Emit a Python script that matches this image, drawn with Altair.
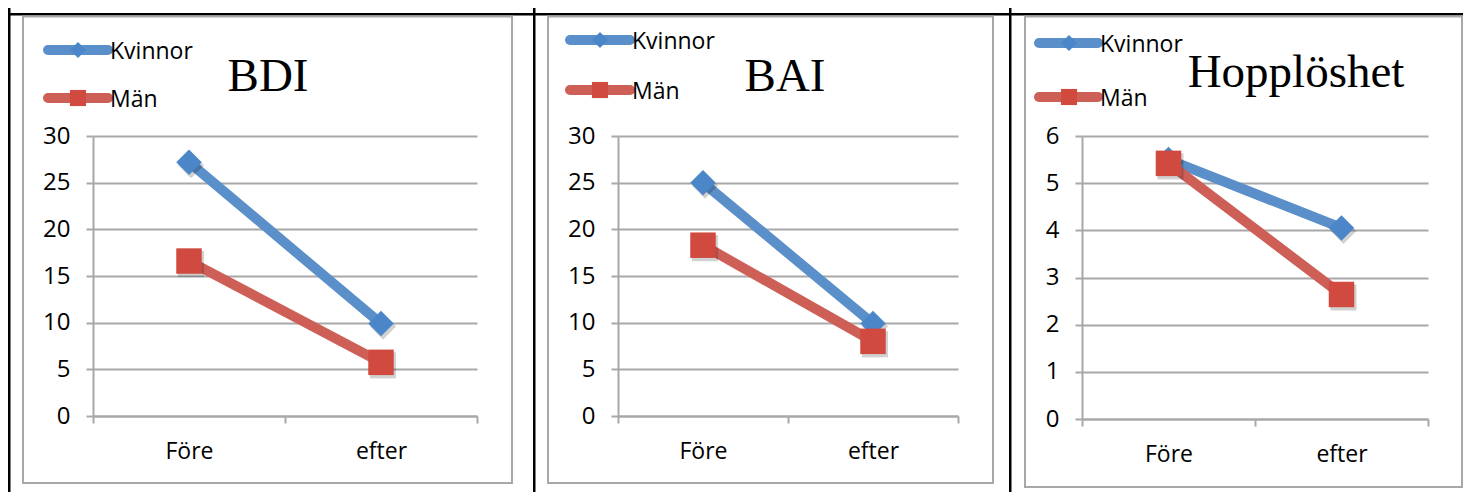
import altair as alt
import pandas as pd

# ---- data ----
time_labels = ["Före", "efter"]
series_names = ["Kvinnor", "Män"]
panel_titles = ["BDI", "BAI", "Hopplöshet"]

bdi_kvinnor = [27.2, 9.9]
bdi_man = [16.6, 5.75]
bai_kvinnor = [25.0, 9.9]
bai_man = [18.3, 8.0]
hopp_kvinnor = [5.5, 4.05]
hopp_man = [5.42, 2.64]

y_max = [30, 30, 6]
y_step = [5, 5, 1]

# ---- styles ----
line_colors = ["#5A8FC9", "#CD5F57"]
marker_fill = ["#4A86C8", "#D04A40"]
marker_shape = ["diamond", "square"]
GREY = "#A8A8A8"
FONT = "Open Sans"

# layout of each panel, in pixels relative to its plot area
plot_w = [384, 340, 346]
plot_h = [280, 280, 283]
cell = [(-85, 440), (-85, 391), (-73, 381)]          # table cell x-range
cell_bottom = 356
box = [(-70, 419, -119.5, 347), (-70, 375, -119.5, 347), (-57, 380, -119.5, 351)]
legend_line = [(-45, 15), (-48, 12), (-43, 16)]
legend_y = [(-86, -38), (-96, -46), (-93, -39)]
legend_marker_x = [-15, -18, -13]
legend_text_x = [17, 14, 18]
title_pos = [(175, -45), (167, -45), (214, -49)]

one = alt.Data(values=[{"k": 0}])


def panel(i, kv, man):
    w, h = plot_w[i], plot_h[i]
    x_enc = alt.X(
        "tid:N", sort=time_labels,
        scale=alt.Scale(type="band", paddingInner=0, paddingOuter=0),
        axis=alt.Axis(title=None, labelAngle=0, tickBand="extent", grid=False,
                      labelPadding=17, labelFontSize=23),
    )
    y_enc = alt.Y(
        "varde:Q",
        scale=alt.Scale(domain=[0, y_max[i]], nice=False, zero=True),
        axis=alt.Axis(title=None, values=list(range(0, y_max[i] + 1, y_step[i])),
                      grid=True, labelPadding=16, labelFontSize=24),
    )
    layers = []
    # table cell (invisible, defines the panel bounds)
    layers.append(alt.Chart(one).mark_rect(fill="white", fillOpacity=0, strokeWidth=0).encode(
        x=alt.value(cell[i][0]), x2=alt.value(cell[i][1]),
        y=alt.value(-128), y2=alt.value(cell_bottom)))
    # table borders (filled rects, so they stay inside the cell bounds)
    layers.append(alt.Chart(one).mark_rect(fill="black", strokeWidth=0).encode(
        x=alt.value(cell[i][0]), x2=alt.value(cell[i][0] + 2.5),
        y=alt.value(-128), y2=alt.value(cell_bottom)))
    layers.append(alt.Chart(one).mark_rect(fill="black", strokeWidth=0).encode(
        x=alt.value(cell[i][0]), x2=alt.value(cell[i][1]),
        y=alt.value(-123), y2=alt.value(-120.5)))
    # chart area border
    bx0, bx1, by0, by1 = box[i]
    layers.append(alt.Chart(one).mark_rect(fillOpacity=0, stroke=GREY, strokeWidth=2).encode(
        x=alt.value(bx0), x2=alt.value(bx1), y=alt.value(by0), y2=alt.value(by1)))

    values = [kv, man]
    for j in range(2):
        df = pd.DataFrame({"tid": time_labels, "serie": series_names[j], "varde": values[j]})
        base = alt.Chart(df).encode(x=x_enc, y=y_enc)
        layers.append(base.mark_line(color=line_colors[j], strokeWidth=10,
                                     strokeCap="round", strokeJoin="round"))
        layers.append(base.mark_point(shape=marker_shape[j], filled=True, color="black",
                                      opacity=0.18, size=680, xOffset=2, yOffset=3))
        layers.append(base.mark_point(shape=marker_shape[j], filled=True, fill=marker_fill[j],
                                      opacity=1, size=650, stroke=None))

    # legend
    for j in range(2):
        ly = legend_y[i][j]
        layers.append(alt.Chart(one).mark_rule(color=line_colors[j], strokeWidth=10,
                                               strokeCap="round").encode(
            x=alt.value(legend_line[i][0]), x2=alt.value(legend_line[i][1]), y=alt.value(ly)))
        layers.append(alt.Chart(one).mark_point(shape=marker_shape[j], filled=True,
                                                fill=marker_fill[j], opacity=1,
                                                size=260).encode(
            x=alt.value(legend_marker_x[i]), y=alt.value(ly)))
        layers.append(alt.Chart(one).mark_text(align="left", baseline="middle", font=FONT,
                                               fontSize=23, color="black").encode(
            x=alt.value(legend_text_x[i]), y=alt.value(ly + 2),
            text=alt.value(series_names[j])))
    # title
    layers.append(alt.Chart(one).mark_text(align="center", baseline="alphabetic",
                                           font="Liberation Serif", fontSize=47,
                                           color="black").encode(
        x=alt.value(title_pos[i][0]), y=alt.value(title_pos[i][1]),
        text=alt.value(panel_titles[i])))

    return alt.layer(*layers).properties(width=w, height=h)


p1 = panel(0, bdi_kvinnor, bdi_man)
p2 = panel(1, bai_kvinnor, bai_man)
p3 = panel(2, hopp_kvinnor, hopp_man)

chart = alt.hconcat(p1, p2, p3, spacing=0).properties(
    padding={"left": 0, "top": 0, "right": 0, "bottom": 0},
    background="white",
).configure_view(stroke=None).configure_axis(
    domainColor=GREY, domainWidth=2, tickColor=GREY, tickWidth=2, tickSize=7,
    gridColor=GREY, gridWidth=2, labelFont=FONT, labelFontSize=22, labelColor="black",
)

chart.save("out.html", embed_options={"renderer": "svg", "actions": False})
